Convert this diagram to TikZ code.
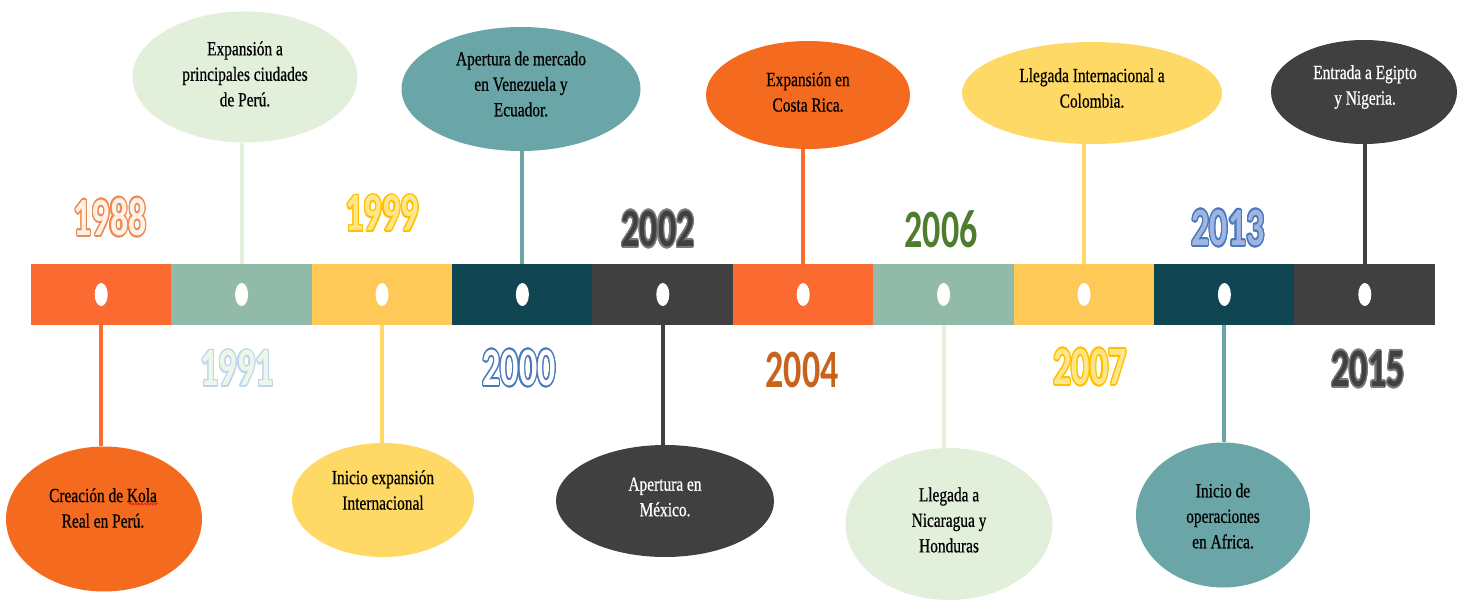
\documentclass[tikz,border=0pt]{standalone}
\usepackage{fontspec}
\usepackage[copies]{contour}
\usetikzlibrary{shapes.geometric,decorations.pathmorphing}
\newfontfamily\bodyfont[FakeStretch=0.77,FakeBold=0.6]{Liberation Serif}
\newfontfamily\yearfont{Carlito}
\definecolor{bOrange}{HTML}{FB6A30}
\definecolor{bSage}{HTML}{92BAA9}
\definecolor{bYellow}{HTML}{FEC956}
\definecolor{bTeal}{HTML}{0F4651}
\definecolor{bGray}{HTML}{404040}
\definecolor{eOrange}{HTML}{F46B1F}
\definecolor{eGreen}{HTML}{E2EFDA}
\definecolor{eYellow}{HTML}{FFD966}
\definecolor{eTeal}{HTML}{6AA5A7}
\definecolor{eGray}{HTML}{404040}
\definecolor{oOrange}{HTML}{EE8A4E}
\definecolor{fCream}{HTML}{FDF1E8}
\definecolor{oBlueL}{HTML}{BDD7EE}
\definecolor{fGreenL}{HTML}{EEF6E8}
\definecolor{oGold}{HTML}{FFC000}
\definecolor{fGold}{HTML}{FFE68A}
\definecolor{oBlue}{HTML}{4A78BE}
\definecolor{fBrown}{HTML}{C8631E}
\definecolor{fGreen}{HTML}{4E7D30}
\definecolor{fBlueL}{HTML}{9DB5E0}
\definecolor{oGray}{HTML}{7A7A7A}
\definecolor{spellRed}{HTML}{E02020}
\contourlength{1.2pt}
\newcommand{\yrlbl}[3]{\scalebox{1}[1.5]{\color{#1}\contour{#2}{#3}}}
\newcommand{\yrplain}[2]{\scalebox{1}[1.5]{\color{#1}#2}}
\tikzset{
  segbox/.style={rectangle, draw=none, minimum width=141pt, minimum height=61pt, inner sep=0pt},
  holedot/.style={ellipse, fill=white, draw=none, minimum width=13pt, minimum height=23pt, inner sep=0pt},
  bubble/.style={ellipse, draw=none, inner sep=0pt},
  bodytxt/.style={font=\bodyfont\fontsize{20}{25.5}\selectfont, align=center, inner sep=0pt},
  yearlbl/.style={font=\yearfont\bfseries\fontsize{36}{36}\selectfont, inner sep=0pt},
  conn/.style={line width=4pt}
}
\begin{document}
\begin{tikzpicture}[x=1pt,y=-1pt]
\useasboundingbox (0,0) rectangle (1461,602);
% timeline bar
\foreach \i/\c in {0/bOrange,1/bSage,2/bYellow,3/bTeal,4/bGray,5/bOrange,6/bSage,7/bYellow,8/bTeal,9/bGray}{
  \node[segbox, fill=\c] (s\i) at ({101.2+140.4*\i},294.5) {};
}
% bubbles
\node[bubble, fill=eOrange, minimum width=196pt, minimum height=145pt] (e0) at (104,519) {};
\node[bubble, fill=eGreen, minimum width=225pt, minimum height=131pt] (e1) at (245,77) {};
\node[bubble, fill=eYellow, minimum width=182pt, minimum height=114pt] (e2) at (383,500) {};
\node[bubble, fill=eTeal, minimum width=239pt, minimum height=124pt] (e3) at (521,89) {};
\node[bubble, fill=eGray, minimum width=218pt, minimum height=112pt] (e4) at (665,501) {};
\node[bubble, fill=eOrange, minimum width=204pt, minimum height=108pt] (e5) at (808,95) {};
\node[bubble, fill=eGreen, minimum width=207pt, minimum height=152pt] (e6) at (949,524) {};
\node[bubble, fill=eYellow, minimum width=260pt, minimum height=102pt] (e7) at (1092,93) {};
\node[bubble, fill=eTeal, minimum width=174pt, minimum height=145pt] (e8) at (1223,515) {};
\node[bubble, fill=eGray, minimum width=186pt, minimum height=104pt] (e9) at (1364,92) {};
% connectors
\draw[conn, draw=bOrange] (s0.south) -- (s0.south |- e0.north);
\draw[conn, draw=eGreen] (s1.north) -- (s1.north |- e1.south);
\draw[conn, draw=eYellow] (s2.south) -- (s2.south |- e2.north);
\draw[conn, draw=eTeal] (s3.north) -- (s3.north |- e3.south);
\draw[conn, draw=eGray] (s4.south) -- (s4.south |- e4.north);
\draw[conn, draw=bOrange] (s5.north) -- (s5.north |- e5.south);
\draw[conn, draw=eGreen] (s6.south) -- (s6.south |- e6.north);
\draw[conn, draw=eYellow] (s7.north) -- (s7.north |- e7.south);
\draw[conn, draw=eTeal] (s8.south) -- (s8.south |- e8.north);
\draw[conn, draw=eGray] (s9.north) -- (s9.north |- e9.south);
% dots
\foreach \i in {0,...,9}{
  \node[holedot] (d\i) at (s\i.center) {};
}
% bubble texts
\node[bodytxt] (t0) at (103,508) {Creación de Kola\\Real en Perú.};
\node[bodytxt] (t1) at (245,74) {Expansión a\\principales ciudades\\de Perú.};
\node[bodytxt] (t2) at (383,490) {Inicio expansión\\Internacional};
\node[bodytxt] (t3) at (521,84) {Apertura de mercado\\en Venezuela y\\Ecuador.};
\node[bodytxt, text=white] (t4) at (665,497) {Apertura en\\México.};
\node[bodytxt] (t5) at (808,92) {Expansión en\\Costa Rica.};
\node[bodytxt] (t6) at (949,520) {Llegada a\\Nicaragua y\\Honduras};
\node[bodytxt] (t7) at (1092,88) {Llegada Internacional a\\Colombia.};
\node[bodytxt] (t8) at (1223,516) {Inicio de\\operaciones\\en Africa.};
\node[bodytxt, text=white] (t9) at (1365,87) {Entrada a Egipto\\y Nigeria.};
% spell-check squiggle under "Kola"
\coordinate (kolaL) at (129,504);
\coordinate (kolaR) at (158,504);
\draw[spellRed, line width=0.8pt, decorate, decoration={snake, amplitude=0.9pt, segment length=3pt}] (kolaL) -- (kolaR);
% year labels
\node[yearlbl] (y0) at (110,218) {\yrlbl{fCream}{oOrange}{1988}};
\node[yearlbl] (y1) at (237,369) {\yrlbl{fGreenL}{oBlueL}{1991}};
\node[yearlbl] (y2) at (382,214) {\yrlbl{fGold}{oGold}{1999}};
\node[yearlbl] (y3) at (519,369) {\yrlbl{white}{oBlue}{2000}};
\node[yearlbl] (y4) at (658,230) {\yrlbl{bGray}{oGray}{2002}};
\node[yearlbl] (y5) at (802,370) {\yrplain{fBrown}{2004}};
\node[yearlbl] (y6) at (941,229) {\yrplain{fGreen}{2006}};
\node[yearlbl] (y7) at (1090,368) {\yrlbl{fGold}{oGold}{2007}};
\node[yearlbl] (y8) at (1228,229) {\yrlbl{fBlueL}{oBlue}{2013}};
\node[yearlbl] (y9) at (1368,370) {\yrlbl{bGray}{oGray}{2015}};
\end{tikzpicture}
\end{document}
